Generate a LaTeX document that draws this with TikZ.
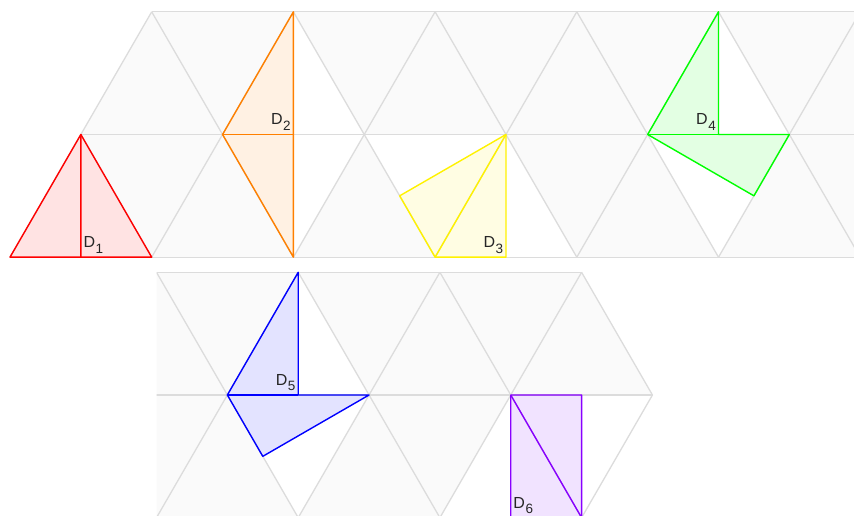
\documentclass[tikz,border=0pt]{standalone}
\usepackage{fontspec}
\setmainfont{Liberation Sans}
\definecolor{gridgray}{RGB}{220,220,220}
\definecolor{cellgray}{RGB}{250,250,250}
\definecolor{dorange}{RGB}{255,128,0}
\definecolor{dpurple}{RGB}{136,0,255}
\tikzset{
  gridline/.style={draw=gridgray, line width=1.3pt},
  piece/.style={draw=#1, fill=#1, fill opacity=0.11, line width=1.4pt, line join=round},
  seam/.style={draw=#1, line width=1.4pt},
  plabel/.style={inner xsep=2.5pt, inner ysep=3.8pt, font=\fontsize{16}{16}\selectfont, text=black!85},
  lattice/.style={x={(141.7pt,0pt)}, y={(70.85pt,122.7pt)}}
}
\newcommand{\dname}[1]{D\kern0.5pt\raisebox{-5.5pt}{\fontsize{13.5}{13.5}\selectfont #1}}

\begin{document}
\begin{tikzpicture}[x=1pt,y=1pt]
\useasboundingbox (0,0) rectangle (854,516);

\begin{scope}[shift={(10pt,258.8pt)}, lattice]
  \fill[cellgray] (0,0) -- (0,2) -- (7,2) -- (7,0) -- cycle;
  \fill[white] (0,0) -- (1,0) -- (0,1) -- cycle
    (1,1) -- (2,1) -- (1,2) -- cycle (1,1) -- (2,1) -- (2,0) -- cycle
    (2,1) -- (3,1) -- (3,0) -- cycle (3,0) -- (4,0) -- (3,1) -- cycle
    (4,1) -- (5,1) -- (4,2) -- cycle (4,1) -- (5,1) -- (5,0) -- cycle;
  \foreach \j in {0,1,2}
    \draw[gridline] (0,\j) -- (8,\j);
  \foreach \i in {0,...,7}
    \draw[gridline] (\i,0) -- (\i,2);
  \draw[gridline] (1,0) -- (0,1);
  \foreach \i in {2,...,9}
    \draw[gridline] (\i,0) -- (\i-2,2);

  \draw[piece=red] (0,0) -- (1,0) -- (0,1) -- cycle;
  \draw[seam=red] (0,1) -- (0.5,0);
  \node[plabel, anchor=south west] (d1) at (0.5,0) {\dname{1}};

  \draw[piece=dorange] (1,1) -- (1,2) -- (2,0) -- cycle;
  \draw[seam=dorange] (1,1) -- (1.5,1);
  \node[plabel, anchor=south east] (d2) at (1.5,1) {\dname{2}};

  \draw[piece=yellow] (3,1) -- (2.5,0.5) -- (3,0) -- (3.5,0) -- cycle;
  \draw[seam=yellow] (3,1) -- (3,0);
  \node[plabel, anchor=south east] (d3) at (3.5,0) {\dname{3}};

  \draw[piece=green] (4,1) -- (4,2) -- (4.5,1) -- (5,1) -- (5,0.5) -- cycle;
  \draw[seam=green] (4,1) -- (4.5,1);
  \node[plabel, anchor=south east] (d4) at (4.5,1) {\dname{4}};
\end{scope}

\begin{scope}
  \clip (156.5,-5) rectangle (860,260);
  \begin{scope}[shift={(156.5pt,-1.7pt)}, lattice]
    \fill[cellgray] (-1,0) -- (-1,2) -- (2,2) -- (3,1) -- (3,0) -- cycle;
    \fill[white] (0,1) -- (1,1) -- (0,2) -- cycle (0,1) -- (1,1) -- (1,0) -- cycle
      (2,0) -- (3,0) -- (2,1) -- cycle (2,1) -- (3,1) -- (3,0) -- cycle;
    \draw[gridline] (-1,2) -- (2,2);
    \draw[gridline] (-1,1) -- (3,1);
    \draw[gridline] (-1,0) -- (3,0);
    \foreach \i in {0,1,2}
      \draw[gridline] (\i,0) -- (\i,2);
    \draw[gridline] (3,0) -- (3,1);
    \foreach \i in {1,2,3}
      \draw[gridline] (\i,0) -- (\i-2,2);
    \draw[gridline] (3,1) -- (2,2);

    \draw[piece=blue] (0,1) -- (0,2) -- (0.5,1) -- (1,1) -- (0.5,0.5) -- cycle;
    \draw[seam=blue] (0,1) -- (0.5,1);
    \node[plabel, anchor=south east] (d5) at (0.5,1) {\dname{5}};

    \draw[piece=dpurple] (2,1) -- (2.5,1) -- (3,0) -- (2.5,0) -- cycle;
    \draw[seam=dpurple] (2,1) -- (3,0);
    \node[plabel, anchor=south west] (d6) at (2.5,0) {\dname{6}};
  \end{scope}
\end{scope}
\end{tikzpicture}
\end{document}
